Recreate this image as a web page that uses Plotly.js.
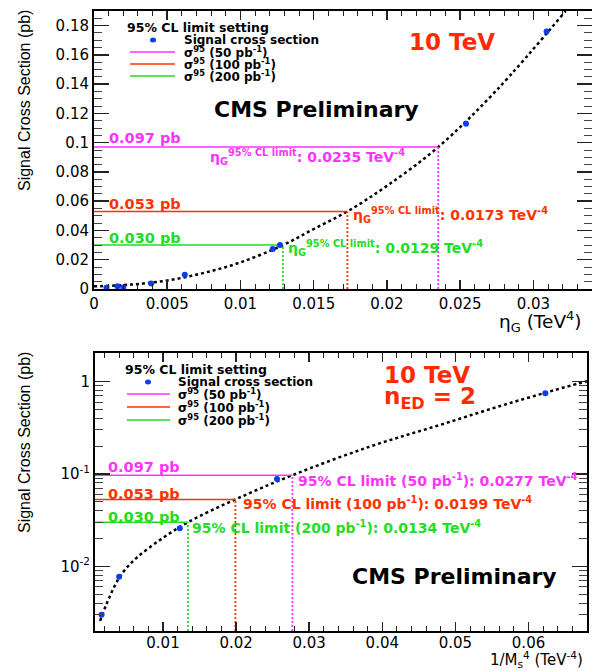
<!DOCTYPE html>
<html>
<head>
<meta charset="utf-8">
<script src="https://cdn.plot.ly/plotly-3.0.1.min.js"></script>
<style>
  html, body { margin: 0; padding: 0; background: #fff; }
  #chart { width: 592px; height: 671px; }
</style>
</head>
<body>
<div id="chart"></div>
<script>
// ---------------- DATA ----------------
// Top panel: eta_G (TeV^4) vs signal cross section (pb)
const topEta   = [0.00085, 0.0016, 0.0020, 0.0039, 0.0062, 0.0122, 0.0127, 0.0254, 0.0309];
const topXsec  = [0.0009, 0.0018, 0.0010, 0.0037, 0.0097, 0.0273, 0.0301, 0.113, 0.176];
const topFitEta  = [0, 0.0025, 0.005, 0.0075, 0.010, 0.0129, 0.015, 0.0173, 0.020, 0.0235, 0.0275, 0.0322];
const topFitXsec = [0.0018, 0.0030, 0.0058, 0.0110, 0.0182, 0.0300, 0.0410, 0.0530, 0.0705, 0.0970, 0.1360, 0.1900];
const topLimitEta  = [0.0235, 0.0173, 0.0129];
const topLimitXsec = [0.097, 0.053, 0.030];

// Bottom panel: 1/Ms^4 (TeV^-4) vs signal cross section (pb)
const botMs   = [0.0016, 0.0040, 0.0123, 0.0256, 0.0623];
const botXsec = [0.0030, 0.0077, 0.0259, 0.0883, 0.749];
const botFitMs   = [0.0014, 0.0022, 0.0031, 0.0040, 0.0051, 0.0065, 0.0095, 0.0134, 0.0199, 0.0277, 0.0383, 0.0479, 0.0574, 0.0669, 0.0680];
const botFitXsec = [0.00257, 0.00378, 0.0055, 0.0075, 0.0098, 0.0126, 0.0191, 0.0300, 0.0530, 0.0970, 0.198, 0.340, 0.584, 0.960, 1.01];
const botLimitMs   = [0.0277, 0.0199, 0.0134];
const botLimitXsec = [0.097, 0.053, 0.030];

const lumis = ['50', '100', '200'];
const limitLabels = ['0.097 pb', '0.053 pb', '0.030 pb'];

// tick labels
const topXTickVals = [0, 0.005, 0.01, 0.015, 0.02, 0.025, 0.03];
const topXTickText = ['0', '0.005', '0.01', '0.015', '0.02', '0.025', '0.03'];
const topYTickVals = [0, 0.02, 0.04, 0.06, 0.08, 0.1, 0.12, 0.14, 0.16, 0.18];
const topYTickText = ['0', '0.02', '0.04', '0.06', '0.08', '0.1', '0.12', '0.14', '0.16', '0.18'];
const botXTickVals = [0.01, 0.02, 0.03, 0.04, 0.05, 0.06];
const botXTickText = ['0.01', '0.02', '0.03', '0.04', '0.05', '0.06'];
const botYTickVals = [0.01, 0.1, 1];
const botYTickText = ['10<sup>-2</sup>', '10<sup>-1</sup>', '1'];

// ---------------- STYLE ----------------
const W = 592, H = 671;
const PX = x => x / W;
const PY = y => 1 - y / H;
const limitColors = ['#ff33ff', '#ff3300', '#22dd22'];
const dotColor = '#0a3cf0';
const TOP_XMIN = 0, TOP_YMIN = 0;
const BOT_XMIN = 0.0007, BOT_YMIN = Math.pow(10, -2.70);

const tickFont = { family: 'DejaVu Sans, Liberation Sans, sans-serif', size: 15, color: '#000' };
const boldFont = (size, color) => ({ family: 'DejaVu Sans, Liberation Sans, sans-serif', size: size, color: color || '#000', weight: 700 });

const traces = [];
// ---- top panel ----
traces.push({ x: topFitEta, y: topFitXsec, xaxis: 'x', yaxis: 'y', mode: 'lines',
  line: { color: '#000', width: 2.5, dash: 'dot', shape: 'spline' }, hoverinfo: 'skip' });
topLimitEta.forEach((e, i) => {
  traces.push({ x: [TOP_XMIN, e], y: [topLimitXsec[i], topLimitXsec[i]], xaxis: 'x', yaxis: 'y', mode: 'lines',
    line: { color: limitColors[i], width: 1.5 } });
  traces.push({ x: [e, e], y: [TOP_YMIN, topLimitXsec[i]], xaxis: 'x', yaxis: 'y', mode: 'lines',
    line: { color: limitColors[i], width: 1.8, dash: '2px,2px' } });
});
traces.push({ x: topEta, y: topXsec, xaxis: 'x', yaxis: 'y', mode: 'markers',
  marker: { color: dotColor, size: 6 } });

// ---- bottom panel ----
traces.push({ x: botFitMs, y: botFitXsec, xaxis: 'x2', yaxis: 'y2', mode: 'lines',
  line: { color: '#000', width: 2.5, dash: 'dot', shape: 'spline' }, hoverinfo: 'skip' });
botLimitMs.forEach((m, i) => {
  traces.push({ x: [BOT_XMIN, m], y: [botLimitXsec[i], botLimitXsec[i]], xaxis: 'x2', yaxis: 'y2', mode: 'lines',
    line: { color: limitColors[i], width: 1.5 } });
  traces.push({ x: [m, m], y: [BOT_YMIN, botLimitXsec[i]], xaxis: 'x2', yaxis: 'y2', mode: 'lines',
    line: { color: limitColors[i], width: 1.8, dash: '2px,2px' } });
});
traces.push({ x: botMs, y: botXsec, xaxis: 'x2', yaxis: 'y2', mode: 'markers',
  marker: { color: dotColor, size: 6 } });

traces.forEach(t => { t.showlegend = false; });

// minor ticks for log axis
const logMinor = [];
[0.001, 0.01, 0.1, 1].forEach(d => { [2,3,4,5,6,7,8,9].forEach(k => logMinor.push(k * d)); });

const axisCommon = {
  showline: true, linecolor: '#000', linewidth: 2, mirror: 'ticks',
  ticks: 'inside', tickcolor: '#222', tickwidth: 1.5,
  showgrid: false, zeroline: false, tickfont: tickFont, fixedrange: true
};

// annotations
const ann = [];
function A(text, x, y, font, opts) {
  ann.push(Object.assign({ text: text, x: PX(x), y: PY(y), xref: 'paper', yref: 'paper',
    xanchor: 'left', yanchor: 'middle', showarrow: false, font: font }, opts || {}));
}
const titleFont = { family: 'Liberation Sans, Arial, sans-serif', size: 16, color: '#000' };

// axis titles
A('Signal Cross Section (pb)', 24, 101, titleFont, { xanchor: 'center', textangle: -90 });
A('Signal Cross Section (pb)', 24, 443, titleFont, { xanchor: 'center', textangle: -90 });
A('η<sub>G</sub> (TeV<sup>4</sup>)', 584, 321, { family: 'DejaVu Sans, Liberation Sans, sans-serif', size: 18.5, color: '#000' }, { xanchor: 'right' });
A('1/M<sub>s</sub><sup>4</sup> (TeV<sup>-4</sup>)', 584, 671, { family: 'DejaVu Sans, Liberation Sans, sans-serif', size: 15, color: '#000' }, { xanchor: 'right', yanchor: 'bottom', borderpad: 0 });

// top legend
A('95% CL limit setting', 125, 27, boldFont(12.5));
A('Signal cross section', 182, 40, boldFont(12));
A('σ<sup>95</sup> (50 pb<sup>-1</sup>)', 182, 52, boldFont(12));
A('σ<sup>95</sup> (100 pb<sup>-1</sup>)', 182, 64, boldFont(12));
A('σ<sup>95</sup> (200 pb<sup>-1</sup>)', 182, 76, boldFont(12));
// bottom legend
A('95% CL limit setting', 123, 369, boldFont(12.5));
A('Signal cross section', 176, 382, boldFont(12));
A('σ<sup>95</sup> (50 pb<sup>-1</sup>)', 176, 394, boldFont(12));
A('σ<sup>95</sup> (100 pb<sup>-1</sup>)', 176, 407, boldFont(12));
A('σ<sup>95</sup> (200 pb<sup>-1</sup>)', 176, 420, boldFont(12));

// energy / CMS labels
A('10 TeV', 452, 42, boldFont(23, '#ff2a00'), { xanchor: 'center' });
A('CMS Preliminary', 316, 110, boldFont(22), { xanchor: 'center' });
A('10 TeV', 427, 375, boldFont(23, '#ff2a00'), { xanchor: 'center' });
A('n<sub>ED</sub> = 2', 430, 398, boldFont(23, '#ff2a00'), { xanchor: 'center' });
A('CMS Preliminary', 455, 576, boldFont(22), { xanchor: 'center' });

// limit value labels
const topLabelY = [138, 204, 238];
const botLabelY = [467, 494, 517];
limitLabels.forEach((t, i) => {
  A(t, 107, topLabelY[i], boldFont(14.5, limitColors[i]));
  A(t, 106, botLabelY[i], boldFont(14.5, limitColors[i]));
});
// limit result annotations
const topResX = [208, 351, 286];
const topResY = [157, 215, 248];
topLimitEta.forEach((e, i) => {
  A('η<sub>G</sub><sup>95% CL limit</sup>: ' + e.toFixed(4) + ' TeV<sup>-4</sup>', topResX[i], topResY[i], boldFont(14, limitColors[i]));
});
const botResX = [296, 241, 190];
const botResY = [480, 503, 527];
botLimitMs.forEach((m, i) => {
  A('95% CL limit (' + lumis[i] + ' pb<sup>-1</sup>): ' + m.toFixed(4) + ' TeV<sup>-4</sup>', botResX[i], botResY[i], boldFont(14, limitColors[i]));
});

// legend sample shapes
const shapes = [];
function legLine(x0, x1, y, color) {
  shapes.push({ type: 'line', xref: 'paper', yref: 'paper', x0: PX(x0), x1: PX(x1), y0: PY(y), y1: PY(y),
    line: { color: color, width: 1.5 } });
}
function legDot(x, y) {
  shapes.push({ type: 'circle', xref: 'paper', yref: 'paper', x0: PX(x - 3), x1: PX(x + 3), y0: PY(y + 2.5), y1: PY(y - 2.5),
    fillcolor: dotColor, line: { width: 0 } });
}
legDot(153, 40);
[52, 64, 76].forEach((y, i) => legLine(130, 175, y, limitColors[i]));
legDot(148, 382);
[394, 407, 420].forEach((y, i) => legLine(127, 170, y, limitColors[i]));

const layout = {
  width: W, height: H,
  margin: { l: 0, r: 0, t: 0, b: 0, pad: 0 },
  paper_bgcolor: '#fff', plot_bgcolor: '#fff',
  showlegend: false,
  xaxis: Object.assign({}, axisCommon, {
    domain: [PX(94), 1], range: [0, 0.034], anchor: 'y',
    tickmode: 'array', tickvals: topXTickVals, ticktext: topXTickText, ticklen: 9,
    minor: { tickmode: 'linear', tick0: 0, dtick: 0.001, ticks: 'inside', ticklen: 5, tickcolor: '#222', tickwidth: 1 }
  }),
  yaxis: Object.assign({}, axisCommon, {
    domain: [PY(289), PY(11)], range: [0, 0.19], anchor: 'x',
    tickmode: 'array', tickvals: topYTickVals, ticktext: topYTickText, ticklen: 15,
    minor: { tickmode: 'linear', tick0: 0, dtick: 0.005, ticks: 'inside', ticklen: 8, tickcolor: '#444', tickwidth: 1 }
  }),
  xaxis2: Object.assign({}, axisCommon, {
    domain: [PX(95), PX(587)], range: [BOT_XMIN, 0.068], anchor: 'y2',
    tickmode: 'array', tickvals: botXTickVals, ticktext: botXTickText, ticklen: 9,
    ticklabelstandoff: -3,
    minor: { tickmode: 'linear', tick0: 0, dtick: 0.002, ticks: 'inside', ticklen: 5, tickcolor: '#222', tickwidth: 1 }
  }),
  yaxis2: Object.assign({}, axisCommon, {
    type: 'log', domain: [PY(631), PY(353)], range: [-2.70, 0.31], anchor: 'x2',
    tickmode: 'array', tickvals: botYTickVals, ticktext: botYTickText, ticklen: 15,
    minor: { tickmode: 'array', tickvals: logMinor, ticks: 'inside', ticklen: 8, tickcolor: '#444', tickwidth: 1 }
  }),
  annotations: ann,
  shapes: shapes
};

Plotly.newPlot('chart', traces, layout, { displayModeBar: false, staticPlot: true });
</script>
</body>
</html>
